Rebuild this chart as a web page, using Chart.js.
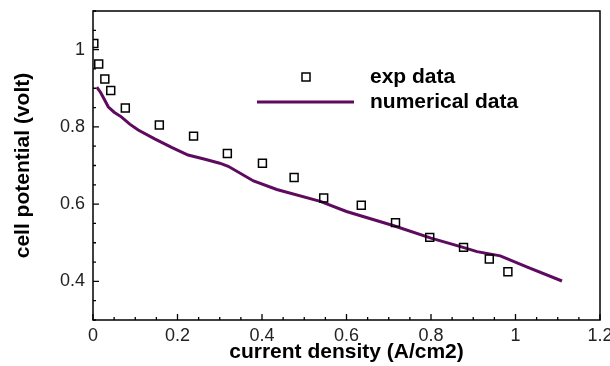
<!DOCTYPE html>
<html>
<head>
<meta charset="utf-8">
<script src="https://cdn.jsdelivr.net/npm/chart.js@4"></script>
<style>
  html, body { margin: 0; padding: 0; background: #fff; }
  #wrap { width: 610px; height: 366px; }
</style>
</head>
<body>
<div id="wrap"><canvas id="polChart"></canvas></div>
<script>
// experimental points (current density A/cm2, cell potential V)
const expX = [0.002, 0.0135, 0.028, 0.042, 0.0765, 0.157, 0.238, 0.318, 0.401, 0.476, 0.546, 0.635, 0.716, 0.797, 0.877, 0.938, 0.982];
const expY = [1.016, 0.963, 0.924, 0.894, 0.849, 0.805, 0.776, 0.731, 0.706, 0.669, 0.616, 0.597, 0.552, 0.514, 0.488, 0.458, 0.425];

// numerical curve
const numX = [0.009, 0.018, 0.027, 0.036, 0.05, 0.067, 0.087, 0.107, 0.146, 0.186, 0.225, 0.265, 0.30, 0.32, 0.38, 0.435, 0.538, 0.60, 0.712, 0.80, 0.87, 0.909, 0.964, 1.028, 1.11];
const numY = [0.903, 0.889, 0.871, 0.852, 0.838, 0.826, 0.807, 0.792, 0.769, 0.747, 0.727, 0.716, 0.706, 0.698, 0.66, 0.638, 0.607, 0.581, 0.544, 0.512, 0.49, 0.477, 0.466, 0.437, 0.401];

const xTicks = [0, 0.2, 0.4, 0.6, 0.8, 1, 1.2];
const yTicks = [0.4, 0.6, 0.8, 1];

const lineColor = '#5e0a5e';
const fontFam = '"Liberation Sans", Arial, sans-serif';

// frame, inward ticks and the legend
const framePlugin = {
  id: 'frame',
  afterDraw(chart) {
    const {ctx, chartArea: a, scales} = chart;
    ctx.save();
    ctx.strokeStyle = '#000';
    ctx.lineWidth = 1.5;
    ctx.strokeRect(a.left, a.top, a.right - a.left, a.bottom - a.top);

    ctx.lineWidth = 1.3;
    ctx.beginPath();
    for (let v = 0; v <= 1.2001; v += 0.05) {
      const px = scales.x.getPixelForValue(v);
      const major = Math.abs(v / 0.2 - Math.round(v / 0.2)) < 1e-6;
      ctx.moveTo(px, a.bottom);
      ctx.lineTo(px, a.bottom - (major ? 6 : 3));
    }
    for (let v = 0.3; v <= 1.1001; v += 0.05) {
      const py = scales.y.getPixelForValue(v);
      const major = Math.abs(v / 0.2 - Math.round(v / 0.2)) < 1e-6;
      ctx.moveTo(a.left, py);
      ctx.lineTo(a.left + (major ? 6 : 3), py);
    }
    ctx.stroke();

    // legend
    ctx.lineWidth = 1.5;
    ctx.strokeRect(302, 73, 8, 8);
    ctx.strokeStyle = lineColor;
    ctx.lineWidth = 3;
    ctx.beginPath();
    ctx.moveTo(257, 102);
    ctx.lineTo(354, 102);
    ctx.stroke();
    ctx.fillStyle = '#000';
    ctx.font = 'bold 21px ' + fontFam;
    ctx.textBaseline = 'middle';
    ctx.fillText('exp data', 370, 77);
    ctx.fillText('numerical data', 370, 102);
    ctx.restore();
  }
};

const fmt = v => String(+Number(v).toFixed(2));

const ctx = document.getElementById('polChart').getContext('2d');
const polChart = new Chart(ctx, {
  type: 'scatter',
  data: {
    datasets: [{
      label: 'exp data',
      data: expX.map((x, i) => ({x: x, y: expY[i]})),
      pointStyle: 'rect',
      pointRadius: 5.6,
      borderColor: '#000',
      backgroundColor: 'rgba(0,0,0,0)',
      borderWidth: 1.5
    }, {
      label: 'numerical data',
      data: numX.map((x, i) => ({x: x, y: numY[i]})),
      showLine: true,
      pointRadius: 0,
      borderColor: lineColor,
      borderWidth: 3,
      tension: 0
    }]
  },
  options: {
    responsive: true,
    maintainAspectRatio: false,
    animation: false,
    layout: { padding: { top: 11, right: 10, left: 0, bottom: 0 } },
    plugins: { legend: { display: false }, tooltip: { enabled: false } },
    scales: {
      x: {
        type: 'linear',
        min: 0,
        max: 1.2,
        afterBuildTicks: s => { s.ticks = xTicks.map(v => ({value: v})); },
        afterFit: s => { s.height = 46; s.paddingLeft = 0; s.paddingRight = 0; },
        grid: { display: false, drawTicks: false },
        border: { display: false },
        ticks: {
          padding: 5,
          color: '#222',
          maxRotation: 0,
          callback: fmt,
          font: { family: fontFam, size: 18 }
        },
        title: {
          display: true,
          text: 'current density (A/cm2)',
          color: '#000',
          padding: { top: 0, bottom: 1 },
          font: { family: fontFam, size: 21, weight: 'bold' }
        }
      },
      y: {
        type: 'linear',
        min: 0.3,
        max: 1.1,
        afterBuildTicks: s => { s.ticks = yTicks.map(v => ({value: v})); },
        afterFit: s => { s.width = 93; s.paddingTop = 0; s.paddingBottom = 0; },
        grid: { display: false, drawTicks: false },
        border: { display: false },
        ticks: {
          padding: 8,
          color: '#222',
          callback: fmt,
          font: { family: fontFam, size: 18 }
        },
        title: {
          display: true,
          text: 'cell potential (volt)',
          color: '#000',
          padding: { top: 11, bottom: 0 },
          font: { family: fontFam, size: 21, weight: 'bold' }
        }
      }
    }
  },
  plugins: [framePlugin]
});
</script>
</body>
</html>
